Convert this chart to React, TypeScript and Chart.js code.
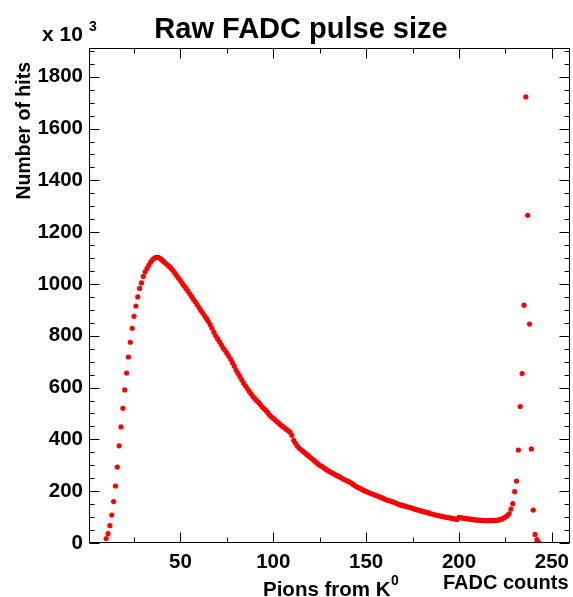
import { useEffect, useRef } from 'react';
import { Chart, registerables } from 'chart.js';

Chart.register(...registerables);

// FADC count of the first filled bin; one bin per count
const firstCount = 10;

// Number of hits (x 10^3) per FADC count, starting at firstCount
const hits = [
  17, 36, 67, 108, 160, 220, 293, 375, 448, 520,
  591, 656, 718, 775, 829, 875, 915, 950, 983, 1004,
  1029, 1047, 1060, 1073, 1085, 1094, 1100, 1103, 1103,
  1099, 1093, 1086, 1080, 1074, 1067, 1060, 1052, 1042, 1032,
  1022, 1013, 1002, 992, 983, 973,
  962, 952, 941, 931, 920, 909, 898, 888, 877, 867,
  856, 843, 829, 814, 800, 789, 778, 765, 753, 744,
  733, 722, 710, 696, 682, 667, 655, 643, 630, 617,
  607, 596, 586, 576, 566, 558, 550, 543, 535, 526,
  519, 512, 503, 494, 487, 481, 475, 468, 462, 456,
  450, 445, 439, 434, 428, 416, 396, 385, 374, 366,
  360, 354, 348, 342, 336, 330, 324, 318, 312, 306,
  300, 296, 291, 286, 281, 277, 273, 269, 265, 261,
  258, 254, 250, 246, 242, 239, 236, 231, 226, 221,
  217, 213, 209, 206, 202, 199, 196, 193, 190, 187,
  184, 182, 179, 176, 173, 169, 166, 164, 162, 160,
  157, 154, 151, 148, 146, 144, 142, 140, 138, 136,
  134, 131, 129, 127, 125, 123, 121, 119, 117, 115,
  113, 111, 109, 107, 106, 104, 102, 101, 99, 98,
  97, 96, 94, 93, 91, 99, 98, 96, 95, 94,
  93, 92, 91, 90, 89, 88, 88, 87, 87, 86,
  86, 86, 86, 86, 87, 87, 88, 90, 92, 96,
  100, 105, 113, 131, 152,
  198, 239, 359, 527, 654, 918, 1722, 1265, 845, 363,
  127, 33, 13, 2,
];

const xMin = 0.74;
const xMax = 260;
const yMin = 0;
const yMax = 1911;

// tick marks (minor + major) and which of them carry labels
const xTickValues = [25, 50, 75, 100, 125, 150, 175, 200, 225, 250];
const xLabelStep = 50;
const yTickValues = [
  0, 50, 100, 150, 200, 250, 300, 350, 400, 450, 500, 550, 600, 650, 700, 750,
  800, 850, 900, 950, 1000, 1050, 1100, 1150, 1200, 1250, 1300, 1350, 1400,
  1450, 1500, 1550, 1600, 1650, 1700, 1750, 1800, 1850, 1900,
];
const yLabelStep = 200;

const titleText = 'Raw FADC pulse size';
const yTitle = 'Number of hits';
const xTitleMain = 'Pions from K';
const xTitleSup = '0';
const xTitleRight = 'FADC counts';
const expText = 'x 10';
const expSup = '3';

const FONT = '"Liberation Sans", Arial, Helvetica, sans-serif';

const framePlugin = {
  id: 'rootFrame',
  afterDraw(chart: any) {
    const { ctx, chartArea: a, scales } = chart;
    const x = scales.x;
    const y = scales.y;
    ctx.save();
    ctx.strokeStyle = '#000';
    ctx.lineWidth = 1;
    const L = Math.round(a.left) + 0.5;
    const R = Math.round(a.right) - 0.5;
    const T = Math.round(a.top) + 0.5;
    const B = Math.round(a.bottom) - 0.5;
    ctx.strokeRect(L, T, R - L, B - T);
    ctx.beginPath();
    xTickValues.forEach((v) => {
      const px = Math.round(x.getPixelForValue(v)) + 0.5;
      const len = v % xLabelStep === 0 ? 10 : 5;
      ctx.moveTo(px, B);
      ctx.lineTo(px, B - len);
      ctx.moveTo(px, T);
      ctx.lineTo(px, T + len);
    });
    yTickValues.forEach((v) => {
      const py = Math.round(y.getPixelForValue(v)) + 0.5;
      const len = v % yLabelStep === 0 ? 10 : 5;
      ctx.moveTo(L, py);
      ctx.lineTo(L + len, py);
      ctx.moveTo(R, py);
      ctx.lineTo(R - len, py);
    });
    ctx.stroke();

    ctx.fillStyle = '#000';
    ctx.textBaseline = 'alphabetic';
    // title
    ctx.font = `bold 29px ${FONT}`;
    ctx.textAlign = 'center';
    ctx.fillText(titleText, 301, 38);
    // exponent
    ctx.textAlign = 'left';
    ctx.font = `bold 21px ${FONT}`;
    ctx.fillText(expText, 42, 41);
    ctx.font = `bold 14px ${FONT}`;
    ctx.fillText(expSup, 89, 31);
    // x titles
    ctx.font = `bold 20.5px ${FONT}`;
    ctx.fillText(xTitleMain, 263, 596);
    ctx.font = `bold 14px ${FONT}`;
    ctx.fillText(xTitleSup, 391, 585);
    ctx.font = `bold 20px ${FONT}`;
    ctx.fillText(xTitleRight, 443, 589);
    // y title
    ctx.save();
    ctx.translate(30, 62);
    ctx.rotate(-Math.PI / 2);
    ctx.textAlign = 'right';
    ctx.font = `bold 19.5px ${FONT}`;
    ctx.fillText(yTitle, 0, 0);
    ctx.restore();
    ctx.restore();
  },
};

export default function App() {
  const ref = useRef<HTMLCanvasElement | null>(null);
  useEffect(() => {
    if (!ref.current) return;
    const points = hits.map((h, i) => ({ x: firstCount + i, y: h }));
    const chart = new Chart(ref.current, {
      type: 'scatter',
      data: {
        datasets: [
          {
            data: points,
            showLine: false,
            pointRadius: 2.6,
            pointHoverRadius: 2.6,
            pointBorderWidth: 0,
            pointBackgroundColor: '#ff0000',
            pointBorderColor: '#ff0000',
          },
        ],
      },
      options: {
        responsive: false,
        animation: false,
        devicePixelRatio: 1,
        layout: { padding: { top: 48, right: 1, left: 0, bottom: 0 } },
        plugins: {
          legend: { display: false },
          title: { display: false },
          tooltip: { enabled: false },
        },
        scales: {
          x: {
            type: 'linear',
            min: xMin,
            max: xMax,
            afterBuildTicks: (s: any) => {
              s.ticks = xTickValues.map((v) => ({ value: v }));
            },
            afterFit: (s: any) => {
              s.height = 54;
              s.paddingLeft = 0;
              s.paddingRight = 0;
            },
            grid: { display: false, drawTicks: false },
            border: { display: false },
            ticks: {
              autoSkip: false,
              maxRotation: 0,
              padding: 7,
              color: '#000',
              font: { family: FONT, size: 20.5, weight: 'bold' },
              callback: (v: any) => (Number(v) % xLabelStep === 0 ? String(v) : ''),
            },
          },
          y: {
            type: 'linear',
            min: yMin,
            max: yMax,
            afterBuildTicks: (s: any) => {
              s.ticks = yTickValues.map((v) => ({ value: v }));
            },
            afterFit: (s: any) => {
              s.width = 89;
              s.paddingTop = 0;
              s.paddingBottom = 0;
            },
            grid: { display: false, drawTicks: false },
            border: { display: false },
            ticks: {
              autoSkip: false,
              padding: 6,
              color: '#000',
              font: { family: FONT, size: 20.5, weight: 'bold' },
              callback: (v: any) => (Number(v) % yLabelStep === 0 ? String(v) : ''),
            },
          },
        },
      },
      plugins: [framePlugin],
    });
    return () => chart.destroy();
  }, []);
  return (
    <div style={{ position: 'absolute', left: 0, top: 0, width: 573, height: 597, background: '#fff' }}>
      <canvas ref={ref} width={573} height={597} style={{ display: 'block' }} />
    </div>
  );
}
